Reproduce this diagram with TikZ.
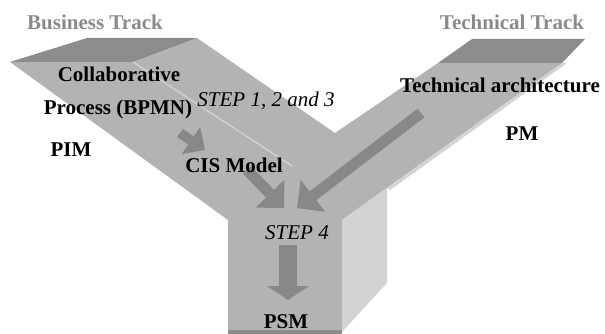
\documentclass[tikz,border=0pt]{standalone}
\usepackage{fontspec}
\setmainfont{Liberation Serif}
\usetikzlibrary{arrows.meta}

\definecolor{band}{RGB}{179,179,179}
\definecolor{capgray}{RGB}{140,140,140}
\definecolor{sidegray}{RGB}{211,211,211}
\definecolor{flowgray}{RGB}{136,136,136}
\definecolor{titlegray}{RGB}{138,138,138}

\begin{document}
\begin{tikzpicture}[x=1pt, y=-1pt,
  lbl/.style={font=\fontsize{21}{25}\selectfont\bfseries, anchor=base, inner sep=0pt},
  steplbl/.style={font=\fontsize{21}{25}\selectfont\itshape, anchor=base, inner sep=0pt},
  track/.style={lbl, text=titlegray},
  flow/.style={draw=flowgray, line width=11pt,
    -{Triangle[length=20pt, width=40pt, line width=0pt, fill=flowgray]}}]
  \useasboundingbox (0,0) rectangle (605,334);

  % the Y
  \fill[band] (10,62) -- (133,62) -- (197,38) -- (335,133) -- (438,63) -- (562,63)
    -- (342,220) -- (342,332) -- (228,332) -- (228,220) -- cycle;
  \fill[capgray] (10,62) -- (87,38) -- (197,38) -- (133,62) -- cycle;
  \fill[capgray] (438,63) -- (472,39) -- (585,39) -- (562,63) -- cycle;
  \fill[sidegray] (562,63) -- (567,63) -- (390,190) -- (387,188) -- cycle;
  \fill[sidegray] (342,220) -- (387,188) -- (387,283) -- (342,332) -- cycle;
  \fill[capgray] (228,330) rectangle (342,334);
  \draw[sidegray, line width=1.3pt] (133,62) -- (292,166);

  \coordinate (bpmn tail) at (180,133);
  \coordinate (bpmn tip) at (205,150);
  \coordinate (cis tail) at (247,170);
  \coordinate (cis tip) at (284,208);
  \coordinate (tech tail) at (421,113);
  \coordinate (tech tip) at (297,208);
  \coordinate (psm tail) at (288,245);
  \coordinate (psm tip) at (288,300);

  \draw[flow, line width=10pt, -{Triangle[length=17pt, width=33pt, line width=0pt, fill=flowgray]}]
    (bpmn tail) -- (bpmn tip);
  \draw[flow] (cis tail) -- (cis tip);
  \draw[flow] (tech tail) -- (tech tip);
  \draw[flow, line width=18pt, -{Triangle[length=14pt, width=42pt, line width=0pt, fill=flowgray]}]
    (psm tail) -- (psm tip);

  \node[track] (bt) at (95,30) {Business Track};
  \node[track] (tt) at (512,30) {Technical Track};
  \node[lbl] (collab) at (119,82) {Collaborative};
  \node[lbl] (bpmn) at (118,115) {Process (BPMN)};
  \node[lbl] (pim) at (71,157) {PIM};
  \node[lbl] (cis) at (234,172) {CIS Model};
  \node[lbl] (arch) at (500,93) {Technical architecture};
  \node[lbl] (pm) at (522,141) {PM};
  \node[steplbl] (s123) at (266,107) {STEP 1, 2 and 3};
  \node[steplbl] (s4) at (297,239) {STEP 4};
  \node[lbl] (psm) at (286,328) {PSM};
\end{tikzpicture}
\end{document}
